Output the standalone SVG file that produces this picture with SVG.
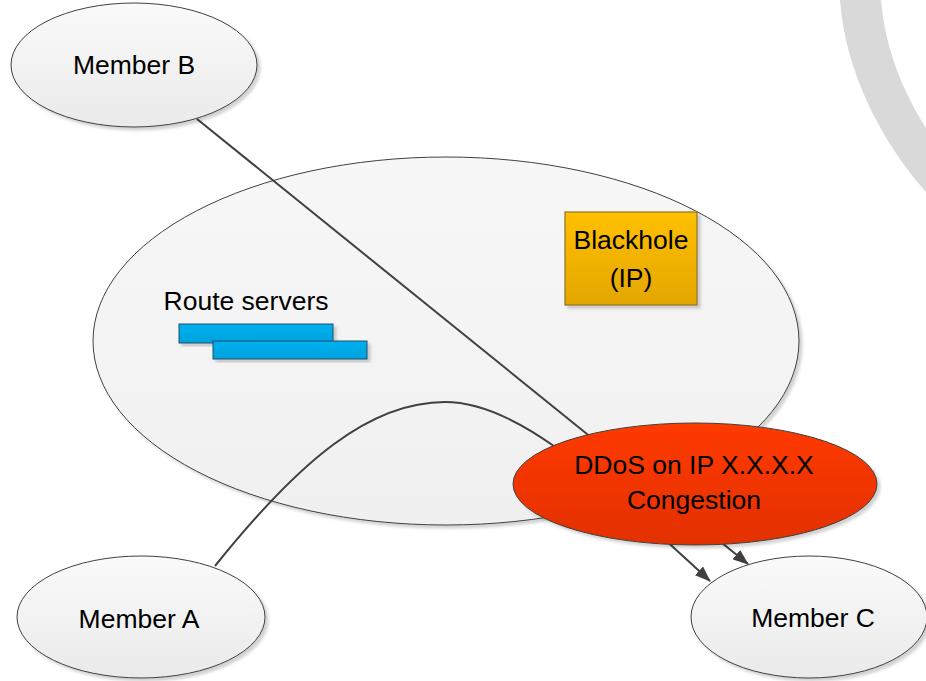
<svg xmlns="http://www.w3.org/2000/svg" width="926" height="681" viewBox="0 0 926 681">
<defs>
<linearGradient id="gEll" x1="0" y1="0" x2="0" y2="1"><stop offset="0" stop-color="#FAFAFA"/><stop offset="1" stop-color="#EAEAEA"/></linearGradient>
<linearGradient id="gBig" x1="0" y1="0" x2="0" y2="1"><stop offset="0" stop-color="#F7F7F7"/><stop offset="1" stop-color="#F0F0F0"/></linearGradient>
<linearGradient id="gRed" x1="0" y1="0" x2="0" y2="1"><stop offset="0" stop-color="#FF3A00"/><stop offset="1" stop-color="#E23000"/></linearGradient>
<linearGradient id="gGold" x1="0" y1="0" x2="0" y2="1"><stop offset="0" stop-color="#FFC000"/><stop offset="1" stop-color="#E3A600"/></linearGradient>
<linearGradient id="gBlue" x1="0" y1="0" x2="0" y2="1"><stop offset="0" stop-color="#00B0F0"/><stop offset="1" stop-color="#00A2DD"/></linearGradient>
<filter id="sh" x="-10%" y="-10%" width="130%" height="130%"><feDropShadow dx="3" dy="3" stdDeviation="1.5" flood-color="#000" flood-opacity="0.18"/></filter>
<marker id="arr" markerWidth="16" markerHeight="12" refX="15" refY="6" orient="auto" markerUnits="userSpaceOnUse"><path d="M0,0 L16,6 L0,12 Z" fill="#404040"/></marker>
<style>
.ell{fill:url(#gEll);stroke:#404040;stroke-width:1;filter:url(#sh)}
.t{font-family:"Liberation Sans",Arial,sans-serif;font-size:26.5px;fill:#000;text-anchor:middle}
.c{fill:none;stroke:#404040;stroke-width:2}
</style>
</defs>
<rect width="926" height="681" fill="#fff"/>
<path d="M840,0 C845,70 880,140 926,192 L926,128 C905,95 885,50 881,0 Z" fill="#D9D9D9"/>
<g id="cloud"><ellipse cx="446" cy="341" rx="353" ry="184" fill="url(#gBig)" stroke="#404040" stroke-width="1" filter="url(#sh)"/></g>
<g id="connectors">
<path class="c" d="M197,119 L748,564" marker-end="url(#arr)"/>
<path class="c" d="M215,566 C300,460 370,402 445,402 C520,402 600,480 710,581" marker-end="url(#arr)"/>
</g>
<g id="memberB"><ellipse class="ell" cx="134" cy="65" rx="123" ry="62"/><text class="t" x="134" y="74">Member B</text></g>
<g id="memberA"><ellipse class="ell" cx="141" cy="617" rx="124" ry="61"/><text class="t" x="139" y="628">Member A</text></g>
<g id="memberC"><ellipse class="ell" cx="809" cy="617" rx="118" ry="61"/><text class="t" x="813" y="627">Member C</text></g>
<g id="blackhole"><rect x="565" y="212" width="132" height="93" fill="url(#gGold)" stroke="#8C7325" stroke-width="1.2" filter="url(#sh)"/><text class="t" x="631" y="249">Blackhole</text><text class="t" x="631" y="287">(IP)</text></g>
<g id="routeservers"><text class="t" x="246" y="310">Route servers</text>
<rect x="179" y="324" width="154" height="19" fill="url(#gBlue)" stroke="#1F4E6E" stroke-width="1" filter="url(#sh)"/>
<rect x="213" y="341" width="154" height="18" fill="url(#gBlue)" stroke="#1F4E6E" stroke-width="1" filter="url(#sh)"/></g>
<g id="ddos"><ellipse cx="695" cy="484" rx="182" ry="61" fill="url(#gRed)" stroke="#404040" stroke-width="1" filter="url(#sh)"/><text class="t" x="694" y="474">DDoS on IP X.X.X.X</text><text class="t" x="694" y="509">Congestion</text></g>
</svg>
